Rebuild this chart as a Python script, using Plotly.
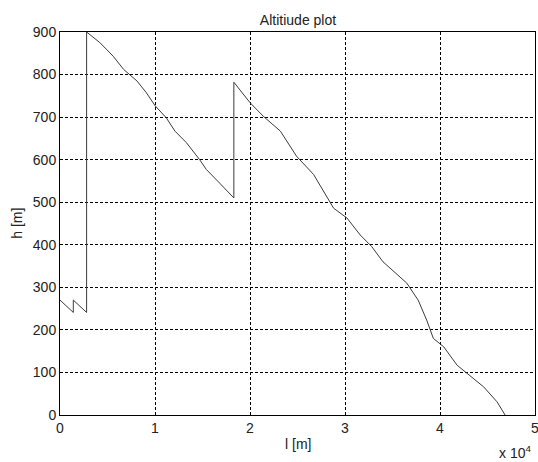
import plotly.graph_objects as go

# distance along track [m]
dist = [0, 1400, 1400, 2800, 2800, 4200, 5600, 6700, 8100, 9100, 10000, 11200,
        12100, 13300, 14700, 15400, 16800, 18300, 18300, 20000, 21400, 23200,
        24900, 26700, 28800, 30200, 31600, 32800, 34000, 36500, 37700, 38600,
        39300, 40400, 41800, 42800, 44600, 46000, 46850]
# altitude [m]
alt = [270, 241, 270, 241, 900, 875, 843, 812, 785, 757, 727, 698,
       667, 640, 600, 577, 545, 510, 782, 734, 702, 667,
       608, 565, 486, 463, 423, 396, 360, 310, 270, 223,
       180, 160, 117, 98, 66, 31, 0]

x_tickvals = [0, 10000, 20000, 30000, 40000, 50000]
x_ticktext = ["0", "1", "2", "3", "4", "5"]
y_tickvals = [0, 100, 200, 300, 400, 500, 600, 700, 800, 900]

FONT = "Liberation Sans, Arial, sans-serif"
TXT = "#222222"

fig = go.Figure()
fig.add_trace(go.Scatter(x=dist, y=alt, mode="lines",
                         line=dict(color="#3c3c3c", width=1), showlegend=False,
                         hoverinfo="skip"))

axis_common = dict(
    showgrid=True, gridcolor="#000000", gridwidth=1, griddash="3px,2px",
    showline=True, linecolor="#000000", linewidth=1, mirror=True,
    zeroline=False, ticks="", tickfont=dict(family=FONT, size=14, color=TXT),
    automargin=False, ticklabeloverflow="allow",
)

W, H = 538, 462
fig.update_layout(
    width=W, height=H,
    margin=dict(l=60, r=3, t=32, b=47, autoexpand=False),
    paper_bgcolor="white", plot_bgcolor="white",
    title=dict(text="Altitiude plot", x=298 / W, xanchor="center",
               y=1 - 20 / H, yanchor="middle",
               font=dict(family=FONT, size=14, color=TXT)),
    xaxis=dict(range=[0, 50000], tickvals=x_tickvals, ticktext=x_ticktext, **axis_common),
    yaxis=dict(range=[0, 900], tickvals=y_tickvals, **axis_common),
    annotations=[
        dict(text="l [m]", x=0.5, xref="x domain", y=-0.076, yref="y domain",
             xanchor="center", yanchor="middle", showarrow=False,
             font=dict(family=FONT, size=14, color=TXT)),
        dict(text="h [m]", x=-0.092, xref="x domain", y=0.5, yref="y domain",
             xanchor="center", yanchor="middle", textangle=-90, showarrow=False,
             font=dict(family=FONT, size=14, color=TXT)),
        dict(text="x 10<sup>4</sup>", x=0.995, xref="x domain", xanchor="right",
             y=-0.125, yref="y domain", yanchor="bottom", showarrow=False,
             font=dict(family=FONT, size=14, color=TXT)),
    ],
)

fig.write_html("out.html", config={"displayModeBar": False},
               post_script="document.body.style.margin='0px';document.body.style.overflow='hidden';")
